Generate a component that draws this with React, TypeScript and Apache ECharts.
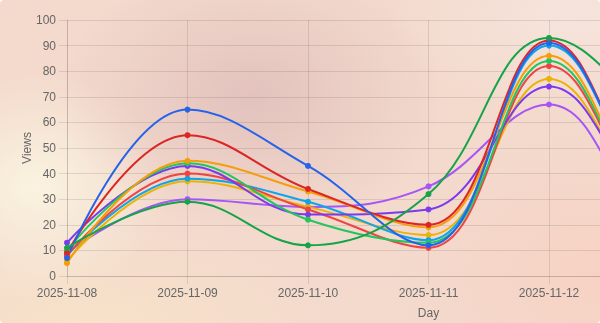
import React, { useEffect, useRef } from "react";
import * as echarts from "echarts";

const days = ["2025-11-08", "2025-11-09", "2025-11-10", "2025-11-11", "2025-11-12", "2025-11-13", "2025-11-14"];

const blueViews = [7, 65, 43, 12, 91, 25, 15];
const redViews = [9, 55, 34, 20, 92, 26, 18];
const orangeViews = [5, 45, 33, 19, 86, 22, 15];
const limeViews = [10, 44, 22, 13, 84, 22, 15];
const purpleViews = [13, 43, 24, 26, 74, 22, 15];
const roseViews = [8, 40, 26, 11, 82, 22, 15];
const skyViews = [8, 38, 29, 14, 90, 25, 15];
const yellowViews = [6, 37, 27, 16, 77, 22, 15];
const violetViews = [9, 30, 27, 35, 67, 15, 10];
const greenViews = [11, 29, 12, 32, 93, 60, 42];

const seriesList = [
  { name: "violet", color: "#a855f7", data: violetViews },
  { name: "yellow", color: "#eab308", data: yellowViews },
  { name: "sky", color: "#0ea5e9", data: skyViews },
  { name: "rose", color: "#ef4444", data: roseViews },
  { name: "purple", color: "#7c3aed", data: purpleViews },
  { name: "lime", color: "#22c55e", data: limeViews },
  { name: "orange", color: "#f59e0b", data: orangeViews },
  { name: "red", color: "#dc2626", data: redViews },
  { name: "blue", color: "#2563eb", data: blueViews },
  { name: "green", color: "#16a34a", data: greenViews },
];

const VISIBLE_DAYS = 5;
const FONT = "'Liberation Sans', Arial, sans-serif";
const GRID = "rgba(0,0,0,0.1)";

export default function App() {
  const ref = useRef<HTMLDivElement>(null);
  useEffect(() => {
    document.body.style.margin = "0";
    const chart = echarts.init(ref.current!, undefined, { renderer: "svg" });
    chart.setOption({
      animation: false,
      textStyle: { fontFamily: FONT },
      grid: { left: 67, top: 20, right: 50, bottom: 47, outerBoundsMode: "none", containLabel: false },
      xAxis: {
        type: "category",
        data: days,
        boundaryGap: false,
        name: "Day",
        nameLocation: "middle",
        nameGap: 31,
        nameMoveOverlap: false,
        nameTextStyle: { color: "#666", fontSize: 12, fontFamily: FONT },
        axisLine: { show: true, lineStyle: { color: GRID } },
        axisTick: { show: true, length: 8, lineStyle: { color: GRID } },
        axisLabel: {
          color: "#666",
          fontSize: 12,
          margin: 11,
          fontFamily: FONT,
          interval: (i: number) => i < VISIBLE_DAYS,
        },
        splitLine: { show: true, lineStyle: { color: GRID } },
      },
      yAxis: {
        type: "value",
        min: 0,
        max: 100,
        interval: 10,
        name: "Views",
        nameLocation: "middle",
        nameGap: 34,
        nameMoveOverlap: false,
        nameTextStyle: { color: "#666", fontSize: 12, fontFamily: FONT },
        axisLine: { show: true, lineStyle: { color: GRID } },
        axisTick: { show: true, length: 8, lineStyle: { color: GRID } },
        axisLabel: { color: "#666", fontSize: 12, margin: 11, fontFamily: FONT },
        splitLine: { show: true, lineStyle: { color: GRID } },
      },
      series: seriesList.map((s) => ({
        name: s.name,
        type: "line",
        data: s.data,
        smooth: 0.4,
        symbol: "circle",
        symbolSize: 6,
        showAllSymbol: true,
        itemStyle: { color: s.color },
        lineStyle: { color: s.color, width: 2 },
      })),
    });
    return () => chart.dispose();
  }, []);
  return (
    <div
      style={{
        position: "fixed",
        left: 0,
        top: 0,
        width: 600,
        height: 323,
        overflow: "hidden",
        borderRadius: 4,
        background:
          "radial-gradient(ellipse 32% 42% at 42% 30%, rgba(224,190,186,0.85), rgba(224,190,186,0) 100%)," +
          "radial-gradient(ellipse 22% 35% at 6% 58%, rgba(250,243,224,1), rgba(250,243,224,0) 100%)," +
          "radial-gradient(ellipse 40% 30% at 15% 100%, rgba(248,226,200,1), rgba(248,226,200,0) 100%)," +
          "radial-gradient(ellipse 35% 45% at 100% 85%, rgba(247,210,196,1), rgba(247,210,196,0) 100%)," +
          "radial-gradient(ellipse 30% 30% at 95% 5%, rgba(246,228,220,1), rgba(246,228,220,0) 100%)," +
          "#f3dacd",
      }}
    >
      <div ref={ref} style={{ width: 840, height: 323 }} />
    </div>
  );
}
